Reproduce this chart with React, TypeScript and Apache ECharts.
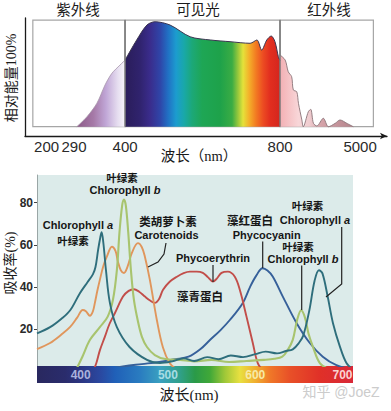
import React, { useEffect, useRef } from 'react';
import * as echarts from 'echarts';

// ---------- Top chart: solar spectrum (schematic position axis, frame spans 0..100) ----------
const topTickPos = [4.05, 12.1, 27.1, 72.6, 96.1];
const topTickLabels = ['200', '290', '400', '800', '5000'];
const regionBounds = [0, 27.1, 72.6, 100];
const regionTitles = ['紫外线', '可见光', '红外线'];

const uvCurve = [
  [12.9, 0], [15.9, 9.4], [18.8, 21.9], [21.2, 39.1], [23.2, 50], [25.6, 57.8], [27.1, 62.5],
];
const visibleCurve = [
  [27.1, 62.5], [30.5, 81.3], [33.5, 95.3], [35.9, 98.4], [40.3, 95.3], [46.2, 84.3], [52.1, 81.3],
  [57.9, 79.7], [63.8, 78.2], [65.8, 81.3], [67.2, 71.9], [68.7, 81.3], [70.0, 85.0], [71.1, 79.7],
  [72.1, 65.6], [72.6, 62],
];
const irCurve = [
  [72.6, 67.2], [74.1, 62.5], [75.0, 51.5], [76.0, 46.9], [76.5, 34.4], [77.5, 32.8], [78.0, 21.9],
  [79.0, 6.3], [79.4, 0], [80.9, 14.1], [81.6, 16.3], [82.4, 3.2], [83.4, 0.7], [85.3, 7.9],
  [86.8, 0], [88.8, 3.2], [90.2, 6.3], [92.2, 3.2], [94.1, 0],
];

// ---------- Bottom chart: absorption spectra (wavelength nm, absorbance %) ----------
const wavelengthTicks = [400, 500, 600, 700];
const absorbTicks = [20, 40, 60, 80];

const chlorophyllA = [
  [350, 18], [365, 21], [378, 25], [388, 29], [399, 37], [408, 42.4], [414, 46], [417, 49.5],
  [420, 57.6], [422.5, 63.5], [424, 66], [426, 61], [429, 48], [433.5, 32.5], [441.5, 21],
  [456, 11.6], [476, 5.5], [491, 4], [505, 4.8], [518, 6.2], [530, 5], [545, 6.8], [558, 5.8],
  [572, 7.6], [586, 6.8], [600, 8.2], [612, 9.4], [625, 8.6], [635, 9.7], [643, 10.5], [650, 13.5],
  [655, 17], [662, 29], [668, 43], [673, 48], [677, 46.5], [683, 35.5], [689, 23], [697, 11.8],
  [704.5, 4], [712, 1],
];
const chlorophyllB = [
  [395, 1], [402, 7], [410.7, 15], [422, 21], [431, 26], [437, 34], [441.5, 48], [444.5, 66],
  [447.5, 78.5], [449.6, 81.5], [451.8, 78.5], [454.5, 66], [457.6, 48], [461, 34], [465.5, 24],
  [470.2, 16.4], [476, 11.6], [485, 7.8], [497, 5.9], [514, 5.5], [530, 4.8], [550, 5.5],
  [570, 4.5], [590, 5], [610, 5.5], [622, 6], [631, 7], [637, 10], [643, 15], [648, 24.4],
  [652.6, 29], [657, 25.5], [661, 18], [666, 11.8], [674, 4], [685, 1],
];
const carotenoids = [
  [350, 10.6], [365, 13.5], [378, 17.5], [388, 21.1], [396, 25.5], [402.4, 29.1], [406, 28.5],
  [410.6, 26.4], [414, 28.5], [416.3, 32.5], [419, 38], [422, 43.4], [426, 50], [430, 54.4],
  [435.8, 59.1], [440, 57], [442.7, 52], [446, 48], [449.6, 46.7], [454, 50], [458.7, 56.2],
  [465.6, 60.8], [470, 59], [473.6, 54.4], [479.3, 43.4], [487.3, 24.4], [494.2, 11.5],
  [502, 4], [510, 1],
];
const phycoerythrin = [
  [414, 0], [418, 4], [422, 10], [427.8, 16.5], [433, 22.5], [439.3, 27.7], [448.5, 35.5],
  [455, 38.2], [461.1, 39], [467, 37.8], [473.6, 35.5], [480, 33.5], [485.1, 32.5], [490, 34.5],
  [494.2, 38.6], [502, 42.5], [510.3, 44.9], [518, 46.6], [525.1, 47.3], [533, 47.3], [540, 46.7],
  [546, 44.6], [551.5, 42.6], [556, 44], [561.4, 46.7], [568.7, 47.3], [576.6, 44.9],
  [582.4, 38.6], [590, 26], [597.2, 13.5], [602.9, 4], [610, 0],
];
const phycocyanin = [
  [430, 1], [450, 2.5], [470, 3.5], [490, 4.5], [508, 5.8], [523.6, 7], [537, 10.5],
  [548.1, 14.9], [560, 19.5], [570.9, 24.4], [585.8, 32.5], [594, 40], [601, 45.3],
  [608.4, 48.9], [614, 47.8], [620.2, 44.9], [631.6, 35.5], [647.3, 23], [662.5, 13.5],
  [677.4, 7], [693, 3], [712, 1],
];

// ---------- styles ----------
const SERIF = "'Liberation Serif', 'Noto Sans CJK SC', serif";
const SANS = "'Liberation Sans', 'Noto Sans CJK SC', sans-serif";
const CJK = "'Noto Sans CJK SC', sans-serif";

const uvStops = [
  [0, '#8c5a88'], [0.35, '#a67aa8'], [0.6, '#c0a6d6'], [0.85, '#e6def0'], [1, '#f8f6fa'],
];
const visStops = [
  [0, '#2a1d5a'], [0.097, '#30236e'], [0.161, '#3a2c8c'], [0.226, '#2f45a8'], [0.277, '#2170c4'],
  [0.329, '#1c9ccf'], [0.381, '#19a8a8'], [0.432, '#1ca878'], [0.497, '#1ea655'], [0.613, '#1ea24a'],
  [0.69, '#3aac44'], [0.729, '#98c83c'], [0.761, '#e4e23a'], [0.8, '#f4b02a'], [0.845, '#f27a22'],
  [0.89, '#ec4c22'], [0.935, '#e22e1f'], [1, '#d4261e'],
];
const irStops = [
  [0, '#f3b0b4'], [0.25, '#f8d6d8'], [0.4, '#f0cdd0'], [0.55, '#d6a4aa'], [1, '#b4848c'],
];
const barStops = [
  [0, '#29285f'], [0.089, '#2a2c6c'], [0.136, '#2b3480'], [0.2, '#2a48a0'], [0.247, '#2060b8'],
  [0.326, '#2a7cc0'], [0.389, '#3aa0c0'], [0.453, '#30a088'], [0.5, '#2a9a48'], [0.547, '#40a838'],
  [0.595, '#a0c838'], [0.642, '#e8e040'], [0.69, '#f0b030'], [0.737, '#f07828'], [0.8, '#e85028'],
  [0.896, '#e03028'], [1, '#d82838'],
];
const barLabelColors = ['#aab2dc', '#a6dce4', '#f6eaa6', '#fad2d2'];

const grad = (stops: (number | string)[][]) =>
  new echarts.graphic.LinearGradient(0, 0, 1, 0, stops.map(([offset, color]) => ({ offset: offset as number, color: color as string })));

const txt = (text: string, x: number, y: number, extra: any = {}, rotation = 0) => ({
  type: 'text', x, y, rotation, silent: true, z: 100,
  style: { text, align: 'center', verticalAlign: 'middle', fill: '#1a1a1a', fontSize: 14, fontFamily: SERIF, ...extra },
});
const label = (text: string, x: number, y: number, size = 10.5) =>
  txt(text, x, y, { fontFamily: CJK, fontWeight: 'bold', fontSize: size, fill: '#161616', lineHeight: size });
const engLabel = (name: string, italic: string, x: number, y: number) => ({
  type: 'text', x, y, silent: true, z: 100,
  style: {
    text: italic ? `{n|${name} }{i|${italic}}` : `{n|${name}}`,
    align: 'center', verticalAlign: 'middle',
    rich: {
      n: { fontFamily: SANS, fontWeight: 'bold', fontSize: 11, lineHeight: 11, fill: '#161616' },
      i: { fontFamily: SANS, fontWeight: 'bold', fontStyle: 'italic', fontSize: 11, lineHeight: 11, fill: '#161616' },
    },
  },
});
const leader = (points: number[][]) => ({
  type: 'polyline', silent: true, z: 100,
  shape: { points },
  style: { stroke: '#222', lineWidth: 1.2, fill: null },
});

const curve = (name: string, data: number[][], color: string, width = 1.9) => ({
  name, type: 'line', xAxisIndex: 1, yAxisIndex: 1, data, smooth: 0.35, symbol: 'none',
  clip: true, lineStyle: { color, width },
});

const option: any = {
  animation: false,
  grid: [
    { left: 25, top: 18, width: 362, height: 118 },
    { left: 37, top: 175, width: 316, height: 191, show: true, backgroundColor: '#dcebea', borderWidth: 0 },
    { left: 37, top: 366, width: 316, height: 17 },
  ],
  xAxis: [
    {
      gridIndex: 0, type: 'value', min: -2.3, max: 104,
      axisLine: { onZero: false, lineStyle: { color: '#1a1a1a', width: 1.3 }, symbol: ['none', 'arrow'], symbolSize: [5, 7] },
      axisTick: { show: false }, splitLine: { show: false },
      axisLabel: {
        customValues: topTickPos,
        formatter: (v: number) => topTickLabels[topTickPos.indexOf(Number(v))] ?? '',
        fontSize: 15, color: '#2a2a2a', margin: 3, fontFamily: SANS,
      },
    },
    { gridIndex: 1, type: 'value', min: 350, max: 712, show: false },
    {
      gridIndex: 2, type: 'value', min: 350, max: 712, z: 10,
      axisLine: { show: false }, axisTick: { show: false }, splitLine: { show: false },
      axisLabel: {
        inside: true, customValues: wavelengthTicks, margin: 2,
        color: (v: number) => barLabelColors[wavelengthTicks.indexOf(Number(v))] ?? '#fff',
        fontWeight: 'bold', fontSize: 12, fontFamily: SANS,
      },
    },
  ],
  yAxis: [
    {
      gridIndex: 0, type: 'value', min: -8.7, max: 101.9,
      axisLine: { show: true, onZero: false, lineStyle: { color: '#1a1a1a', width: 1.3 } },
      axisTick: { show: false }, axisLabel: { show: false }, splitLine: { show: false },
    },
    {
      gridIndex: 1, type: 'value', min: 2.6, max: 93.1,
      axisLine: { show: true, onZero: false, lineStyle: { color: '#9aa6a6' } },
      axisTick: { show: true, length: 3, customValues: absorbTicks, lineStyle: { color: '#444' } },
      axisLabel: { customValues: absorbTicks, fontWeight: 'bold', fontSize: 12, color: '#2a2a2a', margin: 4, fontFamily: SANS },
      splitLine: { show: false },
    },
    { gridIndex: 2, type: 'value', min: 0, max: 1, show: false },
  ],
  series: [
    {
      name: 'UV', type: 'line', xAxisIndex: 0, yAxisIndex: 0, data: uvCurve, smooth: 0.3, symbol: 'none',
      lineStyle: { color: '#a898ac', width: 0.8 }, areaStyle: { color: grad(uvStops), opacity: 1 },
    },
    {
      name: 'Visible', type: 'line', xAxisIndex: 0, yAxisIndex: 0, data: visibleCurve, smooth: 0.3, symbol: 'none',
      lineStyle: { color: '#3a3450', width: 1 }, areaStyle: { color: grad(visStops), opacity: 1 },
    },
    {
      name: 'IR', type: 'line', xAxisIndex: 0, yAxisIndex: 0, data: irCurve, smooth: 0.3, symbol: 'none',
      lineStyle: { color: '#8a7478', width: 0.9 }, areaStyle: { color: grad(irStops), opacity: 1 },
    },
    {
      name: 'frame', type: 'line', xAxisIndex: 0, yAxisIndex: 0, data: [[0, 0]], z: 3, symbol: 'none',
      lineStyle: { opacity: 0 }, silent: true,
      markArea: {
        silent: true, label: { show: false },
        itemStyle: { color: 'rgba(0,0,0,0)', borderColor: '#a6a6a6', borderWidth: 1.2 },
        data: regionTitles.map((_, i) => [
          { xAxis: regionBounds[i], yAxis: 0 },
          { xAxis: regionBounds[i + 1], yAxis: 100 },
        ]),
      },
      markLine: {
        silent: true, symbol: ['none', 'none'], label: { show: false },
        lineStyle: { color: '#7a7a7a', width: 1.5, type: 'solid' },
        data: [1, 2].map((i) => [
          { coord: [regionBounds[i], 0] },
          { coord: [regionBounds[i], 100] },
        ]),
      },
    },
    curve('Phycocyanin', phycocyanin, '#36609a'),
    curve('Phycoerythrin', phycoerythrin, '#c24e4a'),
    curve('Carotenoids', carotenoids, '#e0965c'),
    curve('Chlorophyll b', chlorophyllB, '#a8c46e', 2.1),
    curve('Chlorophyll a', chlorophyllA, '#2e6e7c'),
    {
      name: 'spectrumBar', type: 'line', xAxisIndex: 2, yAxisIndex: 2, data: [[350, 0]], symbol: 'none',
      lineStyle: { opacity: 0 }, silent: true,
      markArea: {
        silent: true, label: { show: false },
        itemStyle: { color: grad(barStops) },
        data: [[{ xAxis: 350, yAxis: 0 }, { xAxis: 712, yAxis: 1 }]],
      },
    },
  ],
  graphic: [
    txt(regionTitles[0], 78, 10, { fontSize: 14.5 }),
    txt(regionTitles[1], 198, 10, { fontSize: 14.5 }),
    txt(regionTitles[2], 329, 10, { fontSize: 14.5 }),
    txt('相对能量100%', 11.5, 78, { fontSize: 14 }, Math.PI / 2),
    txt('波长（nm）', 199, 156, { fontSize: 14.5 }),
    txt('吸收率(%)', 10, 263, { fontSize: 14 }, Math.PI / 2),
    txt('波长(nm)', 189, 395, { fontSize: 15 }),
    txt('知乎 @JoeZ', 341, 392, { fontSize: 14, fill: '#cccccc', fontFamily: SANS }),
    label('叶绿素', 122, 177),
    engLabel('Chlorophyll', 'b', 125, 190),
    engLabel('Chlorophyll', 'a', 78, 225),
    label('叶绿素', 73, 240),
    label('类胡萝卜素', 168, 221, 11.5),
    engLabel('Carotenoids', '', 166.5, 235),
    engLabel('Phycoerythrin', '', 213, 258),
    label('藻青蛋白', 200, 296, 11.5),
    label('叶绿素', 307.5, 205.5),
    label('藻红蛋白', 250, 220, 11.5),
    engLabel('Chlorophyll', 'a', 315, 220),
    engLabel('Phycocyanin', '', 266.7, 234.5),
    label('叶绿素', 298, 246),
    engLabel('Chlorophyll', 'b', 303, 258.8),
    leader([[166, 243], [164, 254], [158, 262], [148, 267]]),
    leader([[213, 265], [213, 282]]),
    leader([[262.7, 241.5], [262.7, 268]]),
    leader([[301.7, 265.5], [301.7, 310]]),
    leader([[341.7, 227], [341.7, 284], [326, 297]]),
  ],
};

export default function App() {
  const ref = useRef<HTMLDivElement>(null);
  useEffect(() => {
    const chart = echarts.init(ref.current!, undefined, { renderer: 'svg' });
    chart.setOption(option);
    return () => chart.dispose();
  }, []);
  return (
    <div
      ref={ref}
      style={{ width: 391, height: 411, position: 'absolute', left: 0, top: 0, background: '#fff' }}
    />
  );
}
